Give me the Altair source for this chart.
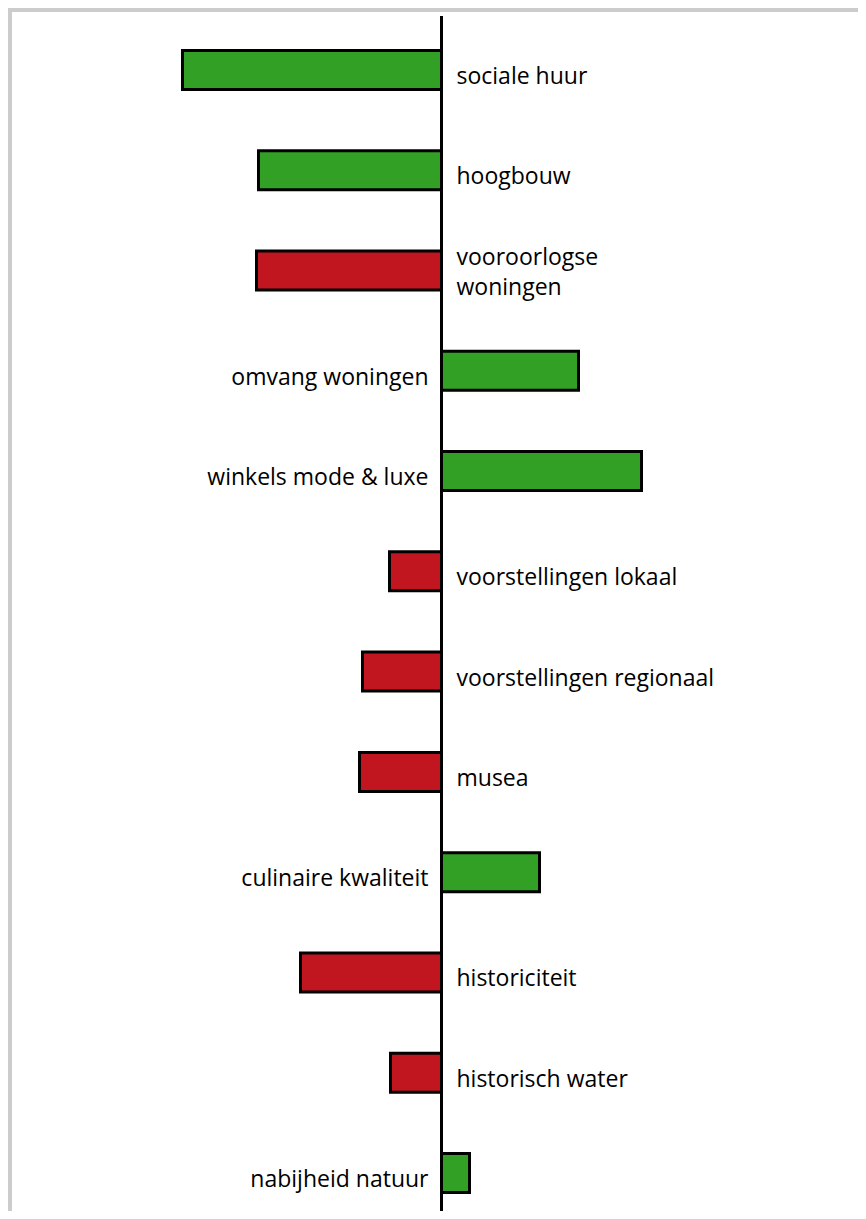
import altair as alt
import pandas as pd

categories = [
    "sociale huur",
    "hoogbouw",
    "vooroorlogse\nwoningen",
    "omvang woningen",
    "winkels mode & luxe",
    "voorstellingen lokaal",
    "voorstellingen regionaal",
    "musea",
    "culinaire kwaliteit",
    "historiciteit",
    "historisch water",
    "nabijheid natuur",
]
values = [-259, -183, -185, 137, 200, -52, -79, -82, 98, -141, -51, 28]
groups = ["groen", "groen", "rood", "groen", "groen", "rood", "rood", "rood",
          "groen", "rood", "rood", "groen"]

df = pd.DataFrame({"kenmerk": categories, "waarde": values, "groep": groups})

W, H = 846, 1199
xscale = alt.Scale(domain=[-429.5, 416.5], nice=False, zero=False)
yscale = alt.Scale(paddingInner=0.611, paddingOuter=0.284, align=0.675)
ypos = alt.Y("kenmerk:N", sort=categories, scale=yscale, axis=None)

base = alt.Chart(df)

bars = base.mark_bar(stroke="black", strokeWidth=3).encode(
    x=alt.X("waarde:Q", scale=xscale, axis=None),
    x2=alt.datum(0),
    y=ypos,
    fill=alt.Fill("groep:N", scale=alt.Scale(domain=["groen", "rood"],
                                             range=["#31a024", "#c1161f"]),
                  legend=None),
)

axis_line = alt.Chart(pd.DataFrame({"nul": [0]})).mark_rule(
    color="black", strokeWidth=3
).encode(
    x=alt.X("nul:Q", scale=xscale, axis=None),
    y=alt.value(4),
    y2=alt.value(H),
)

label_font = dict(font="Open Sans", fontSize=23, color="black",
                  baseline="middle", lineBreak="\n", lineHeight=30)

multi = "indexof(datum.kenmerk, '\\n') >= 0"

labels_right = base.transform_filter(
    f"datum.waarde < 0 && !({multi})"
).mark_text(align="left", dx=15, dy=7, **label_font).encode(
    x=alt.datum(0), y=ypos, text="kenmerk:N",
)

labels_right_multi = base.transform_filter(
    f"datum.waarde < 0 && ({multi})"
).mark_text(align="left", dx=15, dy=-13, **label_font).encode(
    x=alt.datum(0), y=ypos, text="kenmerk:N",
)

labels_left = base.transform_filter("datum.waarde >= 0").mark_text(
    align="right", dx=-13, dy=7, **label_font
).encode(
    x=alt.datum(0), y=ypos, text="kenmerk:N",
)

chart = alt.layer(bars, axis_line, labels_right, labels_right_multi,
                  labels_left).properties(
    width=W,
    height=H,
    background="#cccccc",
    padding={"left": 4, "top": 4, "right": 0, "bottom": 0},
    autosize=alt.AutoSizeParams(type="none"),
).configure_view(stroke=None, fill="white")

chart.save("out.html", embed_options={"renderer": "svg", "actions": False})
